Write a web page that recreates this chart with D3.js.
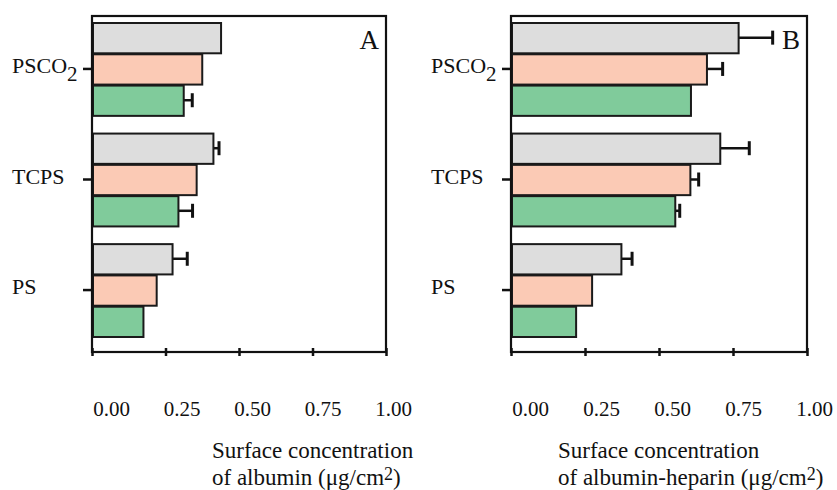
<!DOCTYPE html>
<html><head><meta charset="utf-8">
<script src="https://cdn.jsdelivr.net/npm/d3@7"></script>
<style>
body{margin:0;background:#fff}
svg{display:block}
svg text{font-family:'Liberation Serif','Tinos','DejaVu Serif',serif;fill:#111}
</style>
</head><body>
<svg id="chart" width="837" height="490"></svg>
<script>
// ---- data ----
const categories = ["PSCO2", "TCPS", "PS"];
const seriesNames = ["series1", "series2", "series3"];
const seriesColors = ["#dddddd", "#fbcab5", "#80cb9b"];
const xTickValues = [0, 0.25, 0.5, 0.75, 1];
const xTickLabels = ["0.00", "0.25", "0.50", "0.75", "1.00"];

// Panel A: albumin
const albuminSeries1 = [0.439, 0.413, 0.274];
const albuminSeries2 = [0.375, 0.356, 0.220];
const albuminSeries3 = [0.312, 0.294, 0.175];
const albuminErr1 = [0, 0.019, 0.050];
const albuminErr2 = [0, 0, 0];
const albuminErr3 = [0.029, 0.048, 0];

// Panel B: albumin-heparin
const heparinSeries1 = [0.769, 0.707, 0.373];
const heparinSeries2 = [0.662, 0.606, 0.274];
const heparinSeries3 = [0.608, 0.555, 0.220];
const heparinErr1 = [0.115, 0.098, 0.036];
const heparinErr2 = [0.053, 0.028, 0];
const heparinErr3 = [0, 0.015, 0];

const titleA = ["Surface concentration", "of albumin (μg/cm²)"];
const titleB = ["Surface concentration", "of albumin-heparin (μg/cm²)"];

// ---- layout ----
const FONT = "'Liberation Serif','Tinos','DejaVu Serif',serif";
const svg = d3.select("#chart");
const frameTop = 16, frameBottom = 352;

const panels = [
  {letter: "A", left: 92, right: 386, titleX: 212,
   values: [albuminSeries1, albuminSeries2, albuminSeries3],
   errors: [albuminErr1, albuminErr2, albuminErr3], title: titleA},
  {letter: "B", left: 511, right: 807, titleX: 558,
   values: [heparinSeries1, heparinSeries2, heparinSeries3],
   errors: [heparinErr1, heparinErr2, heparinErr3], title: titleB}
];

panels.forEach(p => {
  const g = svg.append("g");
  const x = d3.scaleLinear().domain([0, 1]).range([p.left, p.right]);
  const y = d3.scaleBand().domain(categories).range([22, 337]).paddingInner(0.151).paddingOuter(0);
  const yInner = d3.scaleBand().domain(seriesNames).range([0, y.bandwidth()]).padding(0);

  // bars
  seriesNames.forEach((s, si) => {
    const rows = categories.map((c, ci) => ({c, v: p.values[si][ci], e: p.errors[si][ci]}));
    const sg = g.append("g");
    rows.filter(d => d.e > 0).forEach(d => {
      const cy = y(d.c) + yInner(s) + yInner.bandwidth() / 2;
      sg.append("line")
        .attr("x1", x(d.v) - 3).attr("x2", x(d.v + d.e))
        .attr("y1", cy).attr("y2", cy)
        .attr("stroke", "#111").attr("stroke-width", 2.5);
      sg.append("line")
        .attr("x1", x(d.v + d.e)).attr("x2", x(d.v + d.e))
        .attr("y1", cy - 7).attr("y2", cy + 7)
        .attr("stroke", "#111").attr("stroke-width", 3);
    });
    sg.selectAll("rect").data(rows).join("rect")
      .attr("x", x(0) + 1)
      .attr("y", d => y(d.c) + yInner(s) + 1)
      .attr("width", d => x(d.v) - x(0) - 1)
      .attr("height", yInner.bandwidth() - 1)
      .attr("fill", seriesColors[si])
      .attr("stroke", "#1a1a1a").attr("stroke-width", 2);
  });

  // frame
  g.append("rect")
    .attr("x", p.left).attr("y", frameTop)
    .attr("width", p.right - p.left).attr("height", frameBottom - frameTop)
    .attr("fill", "none").attr("stroke", "#111").attr("stroke-width", 2.2);

  // x ticks (crossing the bottom edge)
  const xAxis = g.append("g").attr("transform", `translate(0,${frameBottom})`)
    .call(d3.axisBottom(x).tickValues(xTickValues).tickSize(4).tickFormat(""));
  xAxis.select(".domain").remove();
  xAxis.selectAll(".tick line").attr("y1", -4).attr("stroke", "#111").attr("stroke-width", 2.5);

  // x tick labels
  const lbl = d3.scaleLinear().domain([0, 1]).range([p.left + 19, p.right + 7]);
  const xLab = g.append("g").attr("transform", "translate(0,416)")
    .call(d3.axisBottom(lbl).tickValues(xTickValues).tickSize(0).tickFormat((d, i) => xTickLabels[i]));
  xLab.attr("font-family", FONT).attr("font-size", 21);
  xLab.select(".domain").remove();
  xLab.selectAll(".tick line").remove();
  xLab.selectAll(".tick text").attr("y", 0).attr("dy", 0)
    .style("font-family", FONT).attr("font-size", 21).attr("fill", "#111");

  // y ticks
  const yAxis = g.append("g").attr("transform", `translate(${p.left},0)`)
    .call(d3.axisLeft(y).tickSize(9).tickFormat(""));
  yAxis.select(".domain").remove();
  yAxis.selectAll(".tick line").attr("stroke", "#111").attr("stroke-width", 2.5);

  // category labels with subscripts
  categories.forEach(c => {
    const m = c.match(/^(.*?)(\d+)$/);
    const t = g.append("text")
      .attr("x", p.left - 80)
      .attr("y", y(c) + y.bandwidth() / 2 + 4)
      .style("font-family", FONT)
      .attr("font-size", 22);
    if (m) {
      t.append("tspan").text(m[1]);
      t.append("tspan").attr("dy", 8).attr("font-size", 21).text(m[2]);
    } else {
      t.text(c);
    }
  });

  // panel letter
  g.append("text").attr("x", p.right - 7).attr("y", 49)
    .style("font-family", FONT)
    .attr("text-anchor", "end").attr("font-size", 27).text(p.letter);

  // axis title
  g.append("text").attr("x", p.titleX).attr("y", 458)
    .style("font-family", FONT)
    .attr("font-size", 23).text(p.title[0]);
  const parts = p.title[1].split("²");
  const t2 = g.append("text").attr("x", p.titleX).attr("y", 485)
    .style("font-family", FONT).attr("font-size", 23);
  t2.append("tspan").text(parts[0]);
  t2.append("tspan").attr("dy", -5).attr("font-size", 18).text("2");
  t2.append("tspan").attr("dy", 5).text(parts[1]);
});
</script>
</body></html>
